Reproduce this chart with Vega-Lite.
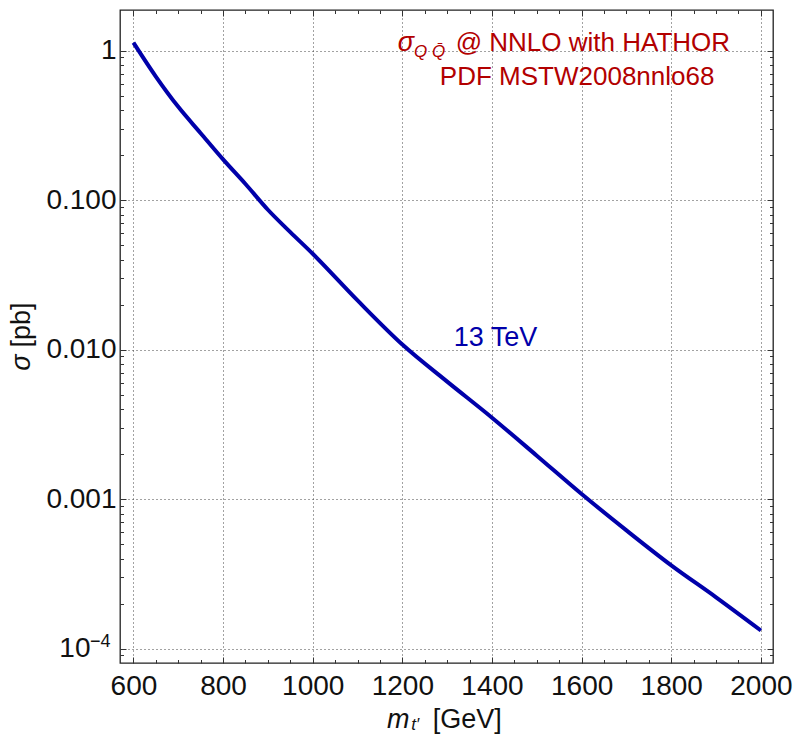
{
  "$schema": "https://vega.github.io/schema/vega-lite/v6.json",
  "width": 653,
  "height": 653,
  "autosize": {"type": "none"},
  "padding": {"left": 120, "top": 10, "right": 20, "bottom": 72},
  "background": "white",
  "config": {
    "view": {"stroke": "#222222", "strokeWidth": 1.3},
    "font": "Liberation Sans",
    "axis": {"labelFont": "Liberation Sans", "titleFont": "Liberation Sans"}
  },
  "data": {
    "values": [
      {"m": 600, "sigma": 1.13},
      {"m": 650, "sigma": 0.67},
      {"m": 700, "sigma": 0.42},
      {"m": 750, "sigma": 0.28},
      {"m": 800, "sigma": 0.187},
      {"m": 850, "sigma": 0.128},
      {"m": 900, "sigma": 0.0861},
      {"m": 950, "sigma": 0.061},
      {"m": 1000, "sigma": 0.0437},
      {"m": 1100, "sigma": 0.0213},
      {"m": 1200, "sigma": 0.0108},
      {"m": 1300, "sigma": 0.0061},
      {"m": 1400, "sigma": 0.0035},
      {"m": 1500, "sigma": 0.00195},
      {"m": 1600, "sigma": 0.00108},
      {"m": 1700, "sigma": 0.000617},
      {"m": 1800, "sigma": 0.00036},
      {"m": 1900, "sigma": 0.00022},
      {"m": 2000, "sigma": 0.000132}
    ]
  },
  "resolve": {"axis": {"x": "independent", "y": "independent"}},
  "layer": [
    {
      "mark": {"type": "line", "color": "#0000aa", "strokeWidth": 4, "clip": true, "interpolate": "monotone"},
      "encoding": {
        "x": {
          "field": "m", "type": "quantitative",
          "scale": {"domain": [570, 2027], "nice": false, "zero": false},
          "axis": {
            "orient": "bottom", "title": null, "domain": false,
            "values": [600,650,700,750,800,850,900,950,1000,1050,1100,1150,1200,1250,1300,1350,1400,1450,1500,1550,1600,1650,1700,1750,1800,1850,1900,1950,2000],
            "format": "d",
            "labelExpr": "datum.value % 200 === 0 ? datum.label : ''",
            "labelFontSize": 28, "labelColor": "#111111",
            "labelPadding": 15, "labelOverlap": false, "labelFlush": false, "labelBound": false,
            "tickColor": "#333333", "tickWidth": 1,
            "tickSize": {"condition": {"test": "datum.value % 200 === 0", "value": -6}, "value": -3.5},
            "grid": true, "gridColor": "#444444", "gridDash": [1, 3], "gridWidth": 1,
            "gridOpacity": {"condition": {"test": "datum.value % 200 === 0", "value": 1}, "value": 0}
          }
        },
        "y": {
          "field": "sigma", "type": "quantitative",
          "scale": {"type": "log", "domain": [0.00008, 1.867], "nice": false},
          "axis": {
            "orient": "left", "title": null, "domain": false,
            "values": [0.00009,0.0001,0.0002,0.0003,0.0004,0.0005,0.0006,0.0007,0.0008,0.0009,0.001,0.002,0.003,0.004,0.005,0.006,0.007,0.008,0.009,0.01,0.02,0.03,0.04,0.05,0.06,0.07,0.08,0.09,0.1,0.2,0.3,0.4,0.5,0.6,0.7,0.8,0.9,1],
            "labelExpr": "abs(log(datum.value)/LN10 - round(log(datum.value)/LN10)) > 0.001 ? '' : (round(log(datum.value)/LN10) == 0 ? '1' : round(log(datum.value)/LN10) == -1 ? '0.100' : round(log(datum.value)/LN10) == -2 ? '0.010' : round(log(datum.value)/LN10) == -3 ? '0.001' : '10')",
            "labelFontSize": 28, "labelColor": "#111111",
            "labelPadding": {"condition": {"test": "datum.value < 0.00015", "value": 36}, "value": 10},
            "labelOverlap": false, "labelFlush": false, "labelBound": false,
            "tickColor": "#333333", "tickWidth": 1,
            "tickSize": {"condition": {"test": "abs(log(datum.value)/LN10 - round(log(datum.value)/LN10)) < 0.001", "value": -6}, "value": -3.5},
            "grid": true, "gridColor": "#444444", "gridDash": [1, 3], "gridWidth": 1,
            "gridOpacity": {"condition": {"test": "abs(log(datum.value)/LN10 - round(log(datum.value)/LN10)) < 0.001", "value": 1}, "value": 0}
          }
        }
      }
    },
    {
      "mark": {"type": "point", "opacity": 0},
      "encoding": {
        "x": {
          "field": "m", "type": "quantitative",
          "axis": {
            "orient": "top", "title": null, "domain": false, "labels": false, "grid": false,
            "values": [600,650,700,750,800,850,900,950,1000,1050,1100,1150,1200,1250,1300,1350,1400,1450,1500,1550,1600,1650,1700,1750,1800,1850,1900,1950,2000],
            "tickColor": "#333333", "tickWidth": 1,
            "tickSize": {"condition": {"test": "datum.value % 200 === 0", "value": -6}, "value": -3.5}
          }
        },
        "y": {
          "field": "sigma", "type": "quantitative",
          "axis": {
            "orient": "right", "title": null, "domain": false, "labels": false, "grid": false,
            "values": [0.00009,0.0001,0.0002,0.0003,0.0004,0.0005,0.0006,0.0007,0.0008,0.0009,0.001,0.002,0.003,0.004,0.005,0.006,0.007,0.008,0.009,0.01,0.02,0.03,0.04,0.05,0.06,0.07,0.08,0.09,0.1,0.2,0.3,0.4,0.5,0.6,0.7,0.8,0.9,1],
            "tickColor": "#333333", "tickWidth": 1,
            "tickSize": {"condition": {"test": "abs(log(datum.value)/LN10 - round(log(datum.value)/LN10)) < 0.001", "value": -6}, "value": -3.5}
          }
        }
      }
    },
    {
      "data": {"values": [{"label": "−4"}]},
      "mark": {"type": "text", "color": "#111111", "fontSize": 18, "align": "left", "baseline": "alphabetic"},
      "encoding": {
        "x": {"datum": 503, "type": "quantitative", "axis": null},
        "y": {"datum": 0.0001023, "type": "quantitative", "axis": null},
        "text": {"field": "label"}
      }
    },
    {
      "data": {"values": [{"label": "13 TeV"}]},
      "mark": {"type": "text", "color": "#0000aa", "fontSize": 27, "align": "center", "baseline": "alphabetic"},
      "encoding": {
        "x": {"datum": 1408, "type": "quantitative", "axis": null},
        "y": {"datum": 0.01055, "type": "quantitative", "axis": null},
        "text": {"field": "label"}
      }
    },
    {
      "data": {"values": [{"label": "PDF MSTW2008nnlo68"}]},
      "mark": {"type": "text", "color": "#b20000", "fontSize": 26, "align": "center", "baseline": "alphabetic"},
      "encoding": {
        "x": {"datum": 1590, "type": "quantitative", "axis": null},
        "y": {"datum": 0.5877, "type": "quantitative", "axis": null},
        "text": {"field": "label"}
      }
    },
    {
      "data": {"values": [{"label": "@ NNLO with HATHOR"}]},
      "mark": {"type": "text", "color": "#b20000", "fontSize": 26, "align": "left", "baseline": "alphabetic"},
      "encoding": {
        "x": {"datum": 1319, "type": "quantitative", "axis": null},
        "y": {"datum": 0.995, "type": "quantitative", "axis": null},
        "text": {"field": "label"}
      }
    },
    {
      "data": {"values": [{"label": "σ"}]},
      "mark": {"type": "text", "color": "#b20000", "fontSize": 27, "fontStyle": "italic", "align": "left", "baseline": "alphabetic"},
      "encoding": {
        "x": {"datum": 1190, "type": "quantitative", "axis": null},
        "y": {"datum": 0.995, "type": "quantitative", "axis": null},
        "text": {"field": "label"}
      }
    },
    {
      "data": {"values": [{"label": "Q Q̄"}]},
      "mark": {"type": "text", "color": "#b20000", "fontSize": 17, "fontStyle": "italic", "align": "left", "baseline": "alphabetic"},
      "encoding": {
        "x": {"datum": 1226, "type": "quantitative", "axis": null},
        "y": {"datum": 0.91, "type": "quantitative", "axis": null},
        "text": {"field": "label"}
      }
    },
    {
      "data": {"values": [{"label": "m"}]},
      "mark": {"type": "text", "color": "#111111", "fontSize": 27, "fontStyle": "italic", "align": "left", "baseline": "alphabetic"},
      "encoding": {
        "x": {"datum": 1166, "type": "quantitative", "axis": null},
        "y": {"datum": 0.0000294, "type": "quantitative", "axis": null},
        "text": {"field": "label"}
      }
    },
    {
      "data": {"values": [{"label": "t′"}]},
      "mark": {"type": "text", "color": "#111111", "fontSize": 17, "fontStyle": "italic", "align": "left", "baseline": "alphabetic"},
      "encoding": {
        "x": {"datum": 1220, "type": "quantitative", "axis": null},
        "y": {"datum": 0.0000285, "type": "quantitative", "axis": null},
        "text": {"field": "label"}
      }
    },
    {
      "data": {"values": [{"label": "[GeV]"}]},
      "mark": {"type": "text", "color": "#111111", "fontSize": 27, "align": "left", "baseline": "alphabetic"},
      "encoding": {
        "x": {"datum": 1268, "type": "quantitative", "axis": null},
        "y": {"datum": 0.0000294, "type": "quantitative", "axis": null},
        "text": {"field": "label"}
      }
    },
    {
      "data": {"values": [{"label": "σ"}]},
      "mark": {"type": "text", "color": "#111111", "fontSize": 27, "fontStyle": "italic", "angle": 270, "align": "right", "baseline": "alphabetic", "dx": -3},
      "encoding": {
        "x": {"datum": 369, "type": "quantitative", "axis": null},
        "y": {"datum": 0.00971, "type": "quantitative", "axis": null},
        "text": {"field": "label"}
      }
    },
    {
      "data": {"values": [{"label": "[pb]"}]},
      "mark": {"type": "text", "color": "#111111", "fontSize": 27, "angle": 270, "align": "left", "baseline": "alphabetic", "dx": 4},
      "encoding": {
        "x": {"datum": 369, "type": "quantitative", "axis": null},
        "y": {"datum": 0.00971, "type": "quantitative", "axis": null},
        "text": {"field": "label"}
      }
    }
  ]
}
